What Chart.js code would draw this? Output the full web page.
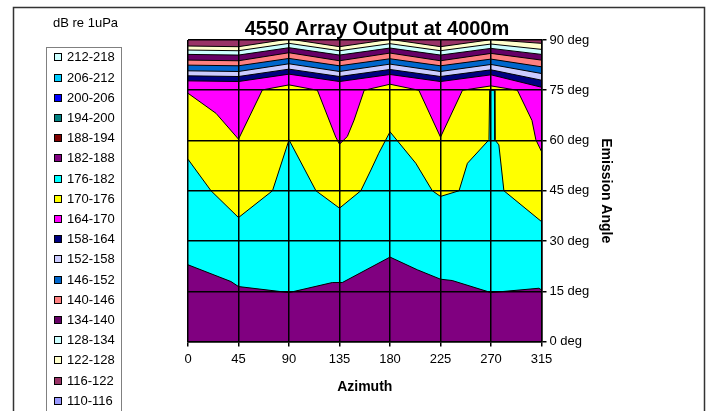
<!DOCTYPE html>
<html>
<head>
<meta charset="utf-8">
<script src="https://cdn.jsdelivr.net/npm/chart.js@4.4.1/dist/chart.umd.min.js"></script>
<style>
  body { margin: 0; background: #fff; }
</style>
</head>
<body>
<canvas id="contourChart" width="714" height="411"></canvas>
<script>
// texts
const chartTitle = '4550 Array Output at 4000m';
const legendTitle = 'dB re 1uPa';
const xTitle = 'Azimuth';
const yTitle = 'Emission Angle';

// key, top to bottom
const bandLabels = ['212-218', '206-212', '200-206', '194-200', '188-194', '182-188',
  '176-182', '170-176', '164-170', '158-164', '152-158', '146-152', '140-146',
  '134-140', '128-134', '122-128', '116-122', '110-116'];
const bandColors = ['#CCFFFF', '#00CCFF', '#0000FF', '#008080', '#800000', '#800080',
  '#00FFFF', '#FFFF00', '#FF00FF', '#000080', '#CCCCFF', '#0066CC', '#FF8080',
  '#660066', '#CCFFFF', '#FFFFCC', '#993366', '#9999FF'];

// axis ticks
const azimuthTicks = [0, 45, 90, 135, 180, 225, 270, 315];
const angleTicks = [0, 15, 30, 45, 60, 75, 90];

// contour lines: [azimuth, emission angle]
const lvl182 = [[0, 22.9], [38.3, 17.9], [45, 16.4], [90, 14.6], [128.6, 17.6], [137.5, 17.6],
  [180, 25.2], [204.4, 21.4], [225, 18.6], [235.4, 18.2], [270, 14.6], [312.7, 15.9], [315, 15.4]];
const lvl176 = [[0, 54.4], [20.5, 45], [45, 37], [75.3, 45], [90, 60.2], [114, 45], [135, 39.8],
  [154, 45], [163, 51.2], [170, 56.2], [180, 62.6], [203, 53.2], [217.7, 45], [225, 43.3],
  [241.5, 45], [249, 53.2], [268.2, 60.2], [268.8, 75], [273, 75], [273.5, 60.2], [277, 58.7],
  [281.5, 45], [315, 35.8]];
const lvl170 = [[0, 74.1], [25, 68.1], [45, 60.4], [66.3, 75.1], [90, 76.6], [115.3, 75],
  [131.7, 61], [135, 58.9], [142, 61.2], [148, 66.1], [157, 75], [180, 76.8], [205.7, 75],
  [225, 61], [244.6, 75], [270, 76.3], [293.5, 75], [306.5, 66], [310, 60.2], [315, 56.7]];
const lvl164 = [[0, 77.8], [45, 77.6], [90, 79.8], [135, 77.6], [180, 79.7], [225, 77.6], [270, 79.6], [315, 75.9]];
const lvl158 = [[0, 79.3], [45, 79.1], [90, 81.3], [135, 79.1], [180, 81.2], [225, 79.1], [270, 81.1], [315, 78.0]];
const lvl152 = [[0, 80.8], [45, 80.6], [90, 82.9], [135, 80.6], [180, 82.8], [225, 80.6], [270, 82.7], [315, 80.0]];
const lvl146 = [[0, 82.5], [45, 82.3], [90, 84.5], [135, 82.3], [180, 84.4], [225, 82.3], [270, 84.3], [315, 82.0]];
const lvl140 = [[0, 84.0], [45, 83.8], [90, 86.2], [135, 83.8], [180, 86.1], [225, 83.8], [270, 86.0], [315, 84.0]];
const lvl134 = [[0, 85.7], [45, 85.5], [90, 87.7], [135, 85.5], [180, 87.6], [225, 85.5], [270, 87.5], [315, 85.7]];
const lvl128 = [[0, 87.0], [45, 86.8], [90, 89.0], [135, 86.8], [180, 88.9], [225, 86.8], [270, 88.8], [315, 87.2]];
const lvl122 = [[0, 88.2], [45, 88.0], [90, 90.3], [135, 88.0], [180, 90.2], [225, 88.0], [270, 90.1], [315, 89.0]];
const lvl116 = [[0, 90.4], [45, 90.3], [90, 91.8], [135, 90.3], [180, 91.8], [225, 90.3], [270, 91.8], [315, 90.2]];

// lowest line first so it is drawn last (on top)
const contourLevels = [182, 176, 170, 164, 158, 152, 146, 140, 134, 128, 122, 116];
const contourLines = [lvl182, lvl176, lvl170, lvl164, lvl158, lvl152, lvl146, lvl140, lvl134, lvl128, lvl122, lvl116];

const fontFamily = '"Liberation Sans", Arial, sans-serif';

function bandColor(label) {
  return bandColors[bandLabels.indexOf(label)];
}

// each line is filled down to 0 deg with the band just under it
const datasets = contourLevels.map((lvl, i) => ({
  label: lvl + '',
  data: contourLines[i].map(p => ({ x: p[0], y: p[1] })),
  borderColor: '#000',
  borderWidth: 1,
  backgroundColor: bandColor(lvl + '-' + (lvl + 6)),
  fill: 'start',
  pointRadius: 0,
  tension: 0,
  clip: 0
}));

// frame, title, key and the band above the last line
const chartDecor = {
  id: 'chartDecor',
  beforeDraw(chart) {
    const ctx = chart.ctx;
    const a = chart.chartArea;
    ctx.save();
    ctx.fillStyle = '#fff';
    ctx.fillRect(0, 0, chart.width, chart.height);
    ctx.fillStyle = bandColor('110-116');
    ctx.fillRect(a.left, a.top, a.right - a.left, a.bottom - a.top);
    ctx.restore();
  },
  afterDraw(chart) {
    const ctx = chart.ctx;
    ctx.save();
    ctx.strokeStyle = '#333';
    ctx.lineWidth = 1.5;
    ctx.strokeRect(13.5, 7.5, 691, 430);

    ctx.fillStyle = '#000';
    ctx.font = 'bold 20px ' + fontFamily;
    ctx.textAlign = 'center';
    ctx.textBaseline = 'alphabetic';
    ctx.fillText(chartTitle, 377, 35);

    ctx.font = '13px ' + fontFamily;
    ctx.textAlign = 'left';
    ctx.fillText(legendTitle, 53, 26.5);

    ctx.strokeStyle = '#808080';
    ctx.lineWidth = 1;
    ctx.strokeRect(46.5, 47.5, 75, 400);

    ctx.textBaseline = 'middle';
    bandLabels.forEach((lab, i) => {
      const y = Math.round(57.3 + 20.2 * i);
      ctx.fillStyle = bandColors[i];
      ctx.fillRect(54.5, y - 3.5, 7, 7);
      ctx.strokeStyle = '#000';
      ctx.strokeRect(54.5, y - 3.5, 7, 7);
      ctx.fillStyle = '#000';
      ctx.fillText(lab, 67, y + 0.5);
    });
    ctx.restore();
  }
};

new Chart(document.getElementById('contourChart'), {
  type: 'line',
  data: { datasets: datasets },
  plugins: [chartDecor],
  options: {
    responsive: false,
    animation: false,
    events: [],
    layout: { padding: { left: 188, right: 100, top: 40, bottom: 15.5 } },
    plugins: {
      legend: { display: false },
      title: { display: false },
      tooltip: { enabled: false }
    },
    scales: {
      x: {
        type: 'linear',
        position: 'bottom',
        min: 0,
        max: 315,
        afterFit: s => { s.height = 54; },
        afterBuildTicks: s => { s.ticks = azimuthTicks.map(v => ({ value: v })); },
        ticks: { z: 1, color: '#000', font: { family: fontFamily, size: 13 }, padding: 5, maxRotation: 0, autoSkip: false },
        grid: { z: 1, color: '#000', lineWidth: 1.5, tickLength: 5 },
        border: { z: 1, color: '#000', width: 1.5 },
        title: { display: true, text: xTitle, color: '#000', padding: 0,
          font: { family: fontFamily, size: 14, weight: 'bold', lineHeight: 1.2 } }
      },
      y: {
        type: 'linear',
        position: 'right',
        min: 0,
        max: 90,
        afterFit: s => { s.width = 72.5; },
        afterBuildTicks: s => { s.ticks = angleTicks.map(v => ({ value: v })); },
        ticks: { z: 1, color: '#000', font: { family: fontFamily, size: 13 }, padding: 3,
          callback: v => v + ' deg' },
        grid: { z: 1, color: '#000', lineWidth: 1.5, tickLength: 5 },
        border: { z: 1, color: '#000', width: 1.5 },
        title: { display: true, text: yTitle, color: '#000', padding: 0,
          font: { family: fontFamily, size: 14, weight: 'bold', lineHeight: 1.2 } }
      }
    }
  }
});
</script>
</body>
</html>
